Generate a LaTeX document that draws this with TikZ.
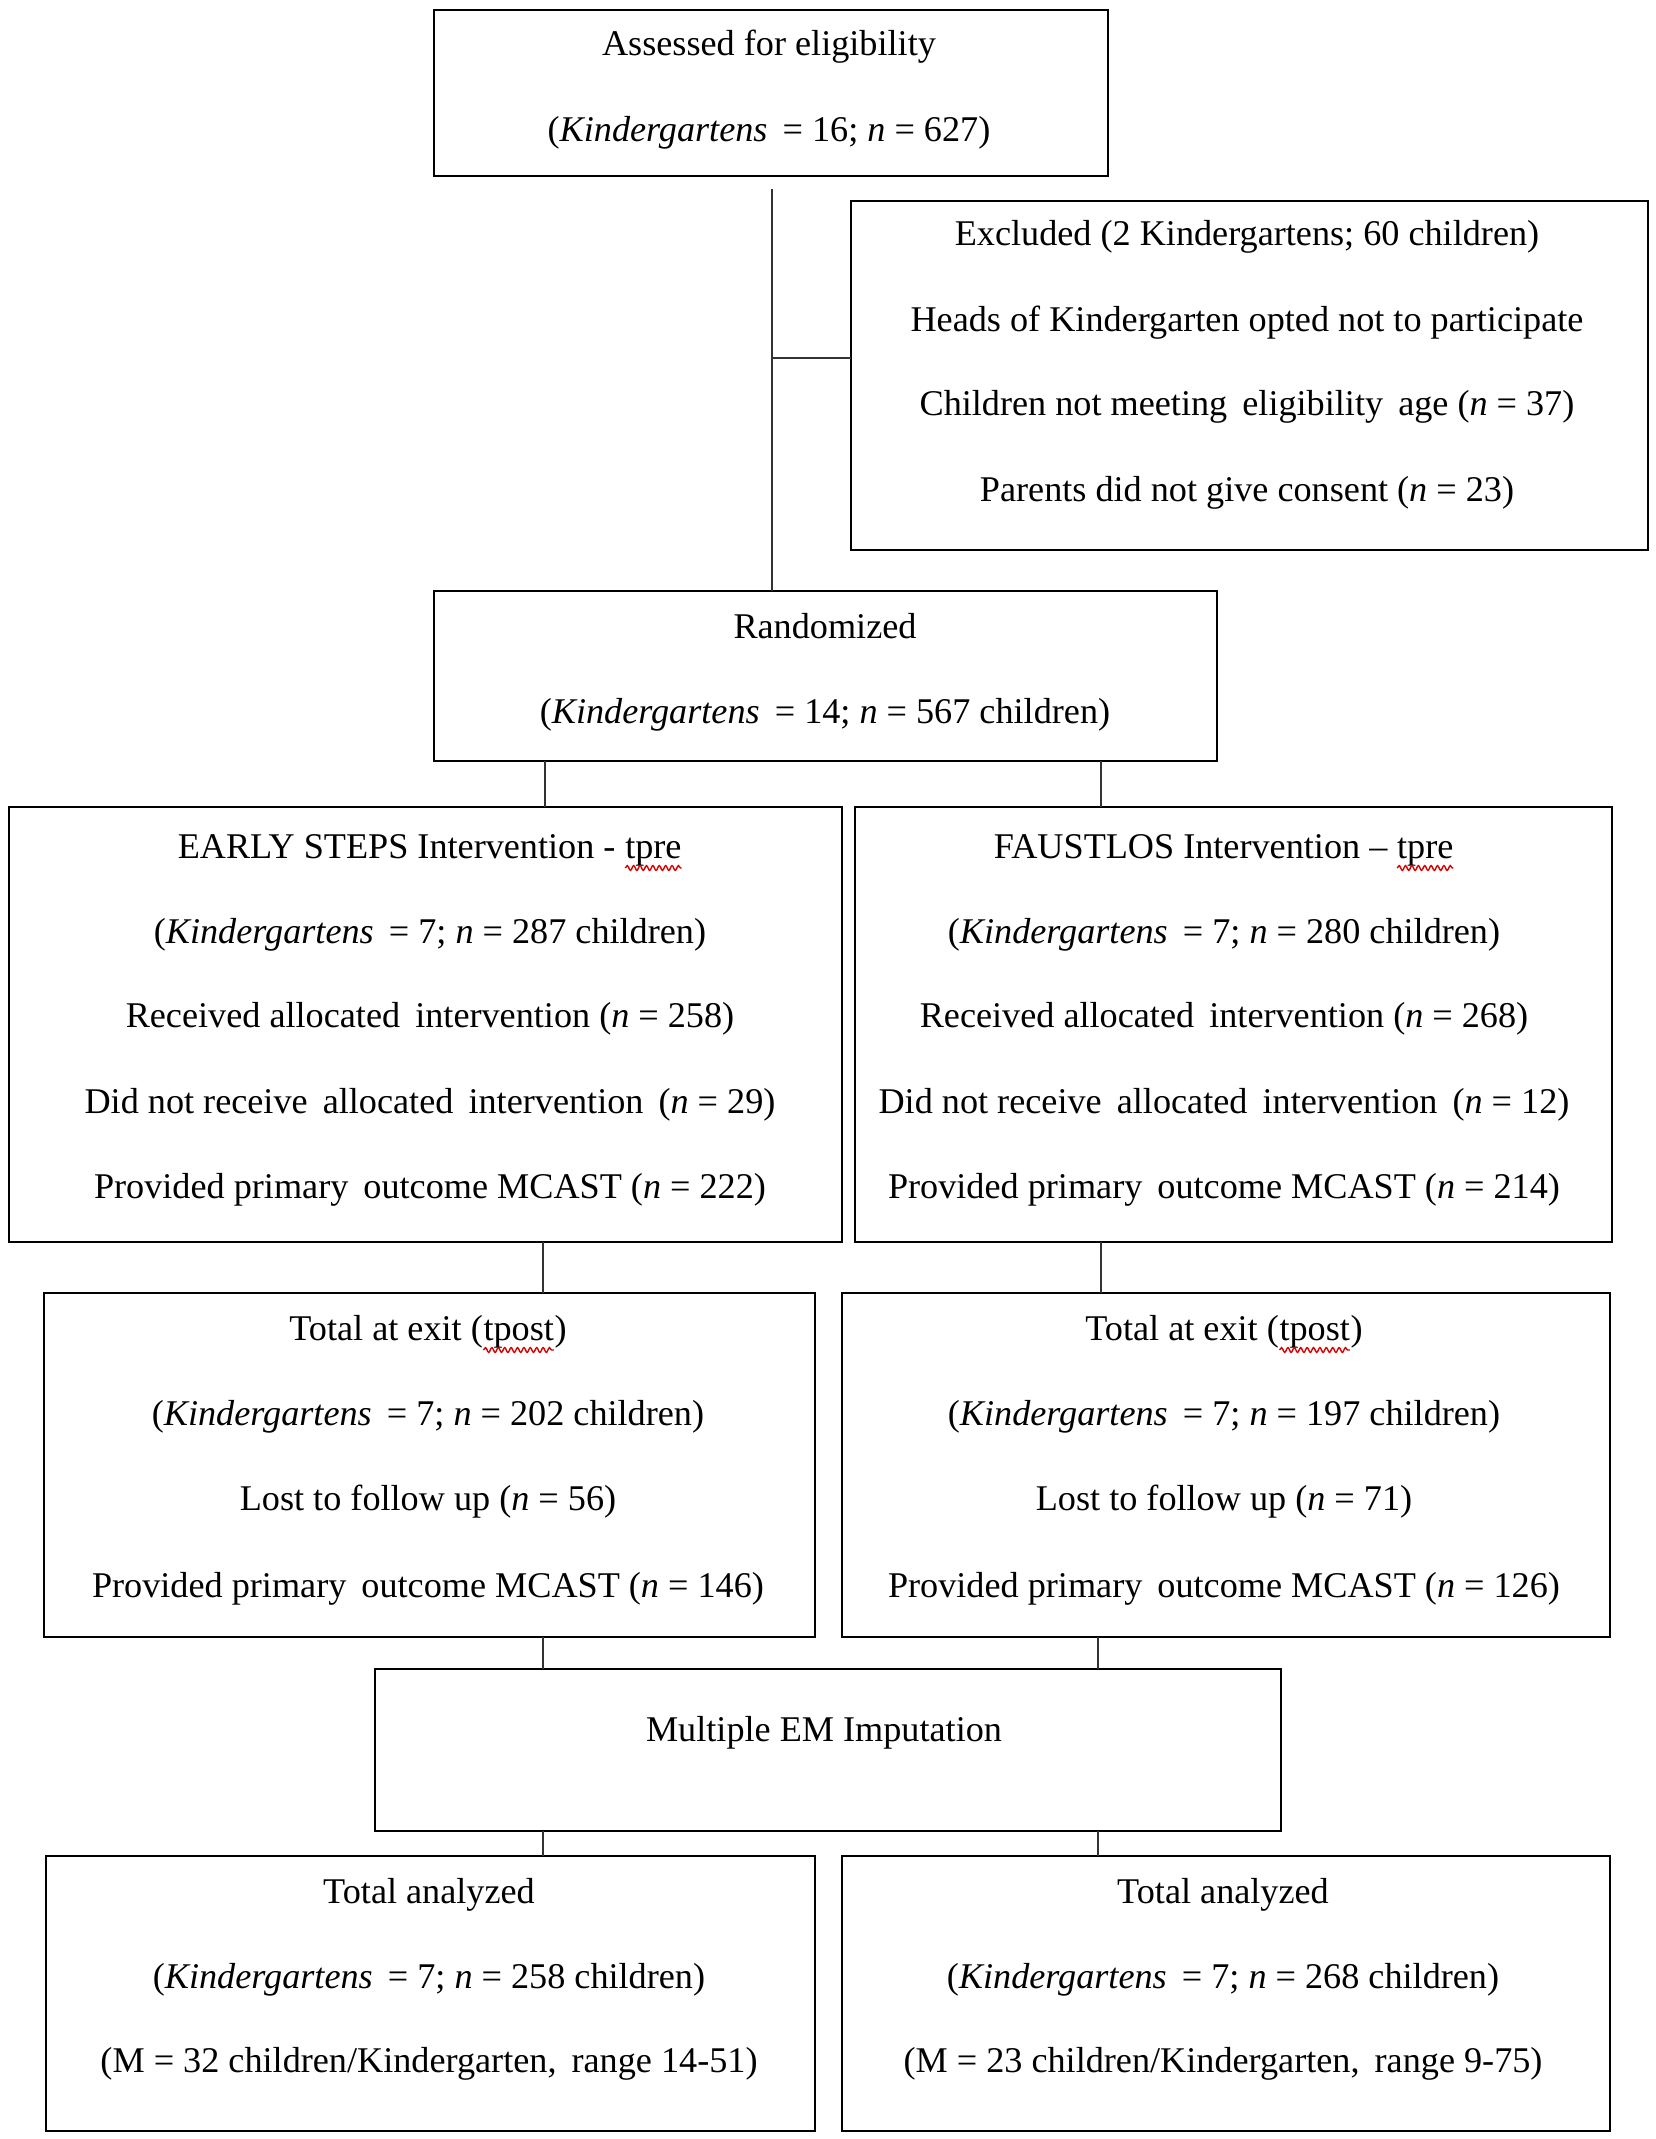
\documentclass[tikz,border=0pt]{standalone}
\usepackage{fontspec}
\setmainfont{Liberation Serif}
\usetikzlibrary{decorations.pathmorphing}
\newcommand\redsquig[1]{\tikz[baseline=(w.base)]{\node[inner sep=0pt, outer sep=0pt, anchor=base] (w) {#1};
  \draw[red!85!black, line width=0.7pt, decorate, decoration={snake, amplitude=1.2pt, segment length=3.2pt}] ([yshift=-5pt]w.base west) -- ([yshift=-5pt]w.base east);}}
\tikzset{
  box/.style={draw, line width=1.1pt, inner sep=0pt, outer sep=0pt},
  txt/.style={anchor=base, inner sep=0pt, font=\fontsize{18.1pt}{22pt}\selectfont},
  conn/.style={line width=0.7pt, draw=black!80}
}
\begin{document}
\begin{tikzpicture}[x=0.5pt,y=-0.5pt]
\useasboundingbox (0,0) rectangle (1655,2139);
% boxes
\node[box, minimum width=337pt, minimum height=83pt] (assess) at (771,93) {};
\node[box, minimum width=398.5pt, minimum height=174.5pt] (excl) at (1249.5,375.5) {};
\node[box, minimum width=391.5pt, minimum height=85pt] (rand) at (825.5,676) {};
\node[box, minimum width=416.5pt, minimum height=217.5pt] (early) at (425.5,1024.5) {};
\node[box, minimum width=378.5pt, minimum height=217.5pt] (faust) at (1233.5,1024.5) {};
\node[box, minimum width=385.5pt, minimum height=172pt] (exitL) at (429.5,1465) {};
\node[box, minimum width=384pt, minimum height=172pt] (exitR) at (1226,1465) {};
\node[box, minimum width=453pt, minimum height=81pt] (em) at (828,1750) {};
\node[box, minimum width=384.5pt, minimum height=137.5pt] (anaL) at (430.5,1993.5) {};
\node[box, minimum width=384pt, minimum height=137.5pt] (anaR) at (1226,1993.5) {};
% texts
\node[txt] (a1) at (769,56) {Assessed for eligibility};
\node[txt] (a2) at (769,142) {(\textit{Kindergartens} \,= 16; \textit{n} = 627)};
\node[txt] (x1) at (1247,246) {Excluded (2 Kindergartens; 60 children)};
\node[txt] (x2) at (1247,332) {Heads of Kindergarten opted not to participate};
\node[txt] (x3) at (1247,416) {Children not meeting \,eligibility \,age (\textit{n} = 37)};
\node[txt] (x4) at (1247,502) {Parents did not give consent (\textit{n} = 23)};
\node[txt] (r1) at (825,638) {Randomized};
\node[txt] (r2) at (825,723) {(\textit{Kindergartens} \,= 14; \textit{n} = 567 children)};
\node[txt] (e1) at (430,858) {EARLY STEPS Intervention - \redsquig{tpre}};
\node[txt] (e2) at (430,943) {(\textit{Kindergartens} \,= 7; \textit{n} = 287 children)};
\node[txt] (e3) at (430,1027) {Received allocated \,intervention (\textit{n} = 258)};
\node[txt] (e4) at (430,1113) {Did not receive \,allocated \,intervention \,(\textit{n} = 29)};
\node[txt] (e5) at (430,1198) {Provided primary \,outcome MCAST (\textit{n} = 222)};
\node[txt] (f1) at (1224,858) {FAUSTLOS Intervention -- \redsquig{tpre}};
\node[txt] (f2) at (1224,943) {(\textit{Kindergartens} \,= 7; \textit{n} = 280 children)};
\node[txt] (f3) at (1224,1027) {Received allocated \,intervention (\textit{n} = 268)};
\node[txt] (f4) at (1224,1113) {Did not receive \,allocated \,intervention \,(\textit{n} = 12)};
\node[txt] (f5) at (1224,1198) {Provided primary \,outcome MCAST (\textit{n} = 214)};
\node[txt] (l1) at (428,1340) {Total at exit (\redsquig{tpost})};
\node[txt] (l2) at (428,1425) {(\textit{Kindergartens} \,= 7; \textit{n} = 202 children)};
\node[txt] (l3) at (428,1510) {Lost to follow up (\textit{n} = 56)};
\node[txt] (l4) at (428,1597) {Provided primary \,outcome MCAST (\textit{n} = 146)};
\node[txt] (g1) at (1224,1340) {Total at exit (\redsquig{tpost})};
\node[txt] (g2) at (1224,1425) {(\textit{Kindergartens} \,= 7; \textit{n} = 197 children)};
\node[txt] (g3) at (1224,1510) {Lost to follow up (\textit{n} = 71)};
\node[txt] (g4) at (1224,1597) {Provided primary \,outcome MCAST (\textit{n} = 126)};
\node[txt] (m1) at (824,1741) {Multiple EM Imputation};
\node[txt] (t1) at (429,1903) {Total analyzed};
\node[txt] (t2) at (429,1988) {(\textit{Kindergartens} \,= 7; \textit{n} = 258 children)};
\node[txt] (t3) at (429,2072) {(M = 32 children/Kindergarten, \,range 14-51)};
\node[txt] (u1) at (1223,1903) {Total analyzed};
\node[txt] (u2) at (1223,1988) {(\textit{Kindergartens} \,= 7; \textit{n} = 268 children)};
\node[txt] (u3) at (1223,2072) {(M = 23 children/Kindergarten, \,range 9-75)};
% connectors
\coordinate (j) at (772,358);
\draw[conn] ([yshift=-6.5pt]assess.south -| 772,0) -- (rand.north -| 772,0);
\draw[conn] (j) -- (j -| excl.west);
\draw[conn] (rand.south -| 545,0) -- (early.north -| 545,0);
\draw[conn] (rand.south -| 1101,0) -- (faust.north -| 1101,0);
\draw[conn] (early.south -| 543,0) -- (exitL.north -| 543,0);
\draw[conn] (faust.south -| 1101,0) -- (exitR.north -| 1101,0);
\draw[conn] (exitL.south -| 543,0) -- (em.north -| 543,0);
\draw[conn] (exitR.south -| 1098,0) -- (em.north -| 1098,0);
\draw[conn] (em.south -| 543,0) -- (anaL.north -| 543,0);
\draw[conn] (em.south -| 1098,0) -- (anaR.north -| 1098,0);
\end{tikzpicture}
\end{document}
